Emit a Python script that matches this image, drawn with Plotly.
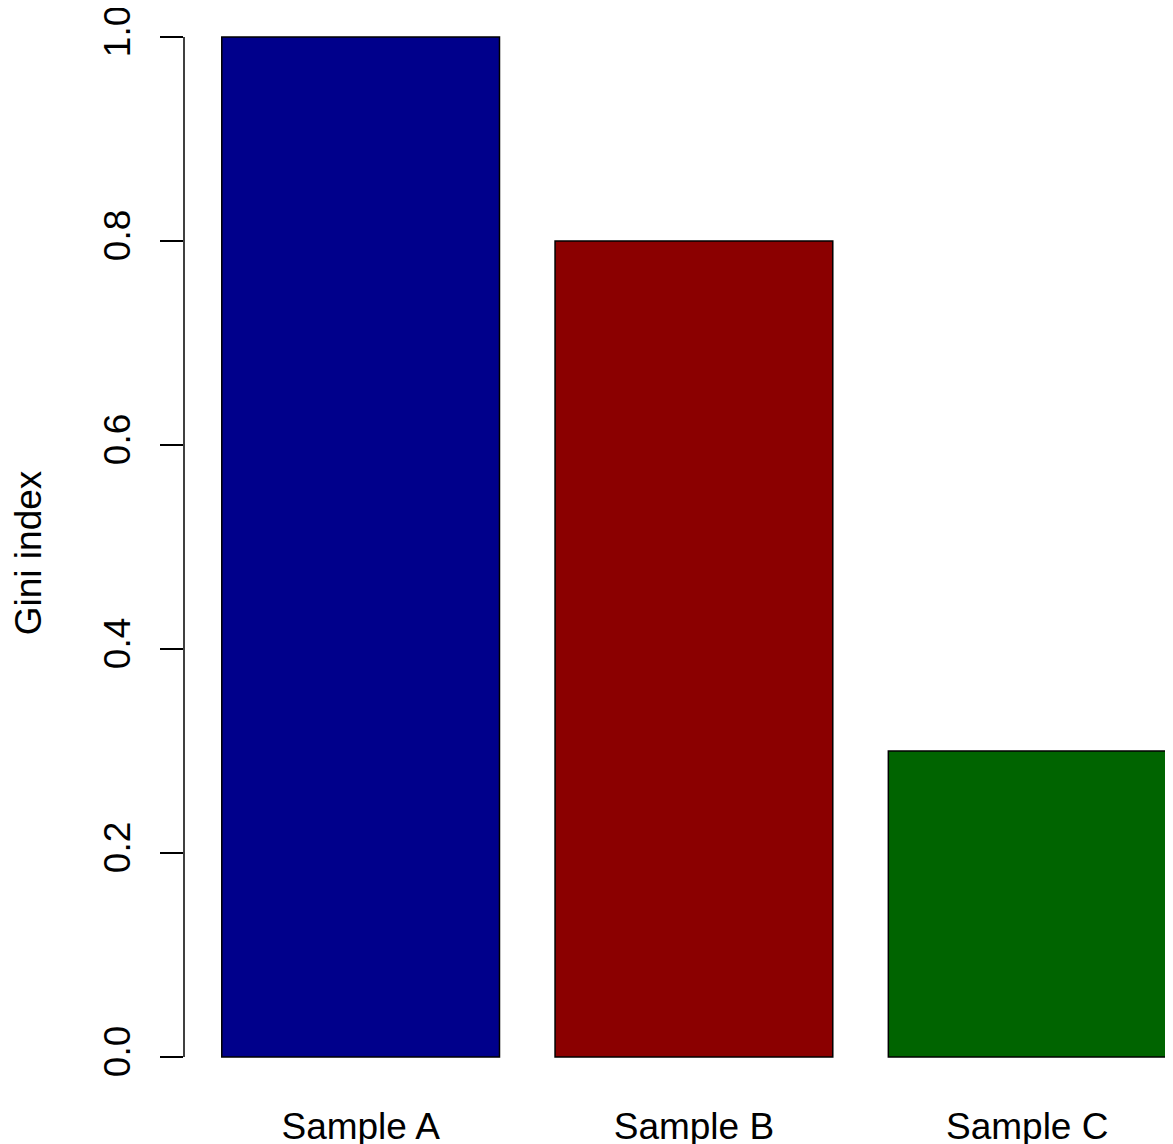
import plotly.graph_objects as go

categories = ["Sample A", "Sample B", "Sample C"]
gini = [1.0, 0.8, 0.3]
colors = ["#00008B", "#8B0000", "#006400"]
yticks = [0.0, 0.2, 0.4, 0.6, 0.8, 1.0]
ytick_text = ["0.0", "0.2", "0.4", "0.6", "0.8", "1.0"]

FONT = "Liberation Sans, Arial, sans-serif"
FS = 37

fig = go.Figure()
fig.add_trace(go.Bar(
    x=categories, y=gini,
    marker=dict(color=colors, line=dict(color="black", width=1.5)),
    showlegend=False,
))

fig.add_shape(type="line", xref="paper", yref="y", x0=0, x1=0,
              y0=min(yticks), y1=max(yticks), line=dict(color="black", width=1.5))

fig.update_layout(
    width=1165, height=1136,
    margin=dict(l=176, r=0, t=0, b=46, autoexpand=False),
    paper_bgcolor="white", plot_bgcolor="white",
    bargap=1 - 1 / 1.2,
    font=dict(family=FONT, size=FS, color="black"),
    xaxis=dict(type="category", range=[-0.53, 2.4375], showline=False, showgrid=False,
               zeroline=False, ticks="", automargin=False, ticklabelstandoff=3,
               ticklabeloverflow="allow",
               tickfont=dict(size=FS, family=FONT)),
    yaxis=dict(range=[-0.0402, 1.02843], tickvals=yticks, ticktext=ytick_text,
               ticks="outside", ticklen=23, tickwidth=1.5, tickcolor="black",
               tickangle=-90, showline=False, showgrid=False, zeroline=False,
               automargin=False, ticklabelstandoff=15, ticklabeloverflow="allow",
               tickfont=dict(size=FS, family=FONT),
               title=dict(text="Gini index", font=dict(size=FS, family=FONT), standoff=52)),
)

fig.write_html("out.html")
